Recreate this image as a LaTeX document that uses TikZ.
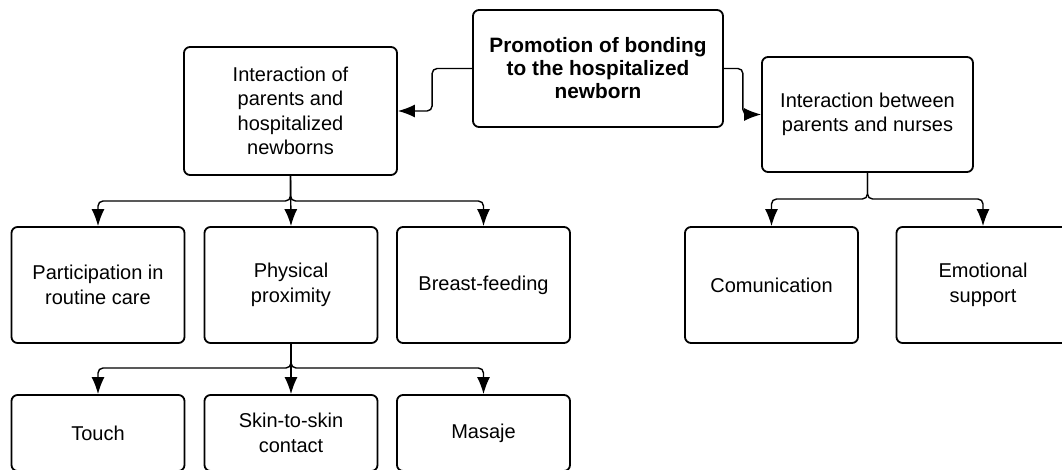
\documentclass[tikz,border=0pt]{standalone}
\usepackage{fontspec}
\setmainfont{Liberation Sans}
\usetikzlibrary{arrows.meta}
\begin{document}
\begin{tikzpicture}[x=1pt,y=-1pt,
  box/.style={draw, line width=1.8pt, rounded corners=6pt, align=center, inner sep=0pt,
    font=\fontsize{20}{24.5}\selectfont},
  rowbox/.style={box, minimum width=173pt, minimum height=116pt},
  lowbox/.style={box, minimum width=173pt, minimum height=76pt},
  conn/.style={line width=1.4pt, rounded corners=5pt, -{Latex[length=17pt,width=13pt]}}]
\useasboundingbox (0,0) rectangle (1062,470);
\clip (0,0) rectangle (1062,470);
% top level
\node[box, minimum width=250pt, minimum height=117pt,
  font=\bfseries\fontsize{20.8}{23}\selectfont] (top) at (598,68.5)
  {Promotion of bonding\\to the hospitalized\\newborn};
\node[box, minimum width=213pt, minimum height=128pt] (L) at (290.5,111)
  {Interaction of\\parents and\\hospitalized\\newborns};
\node[box, minimum width=211pt, minimum height=115pt] (R) at (867.5,114.5)
  {Interaction between\\parents and nurses};
% second row
\node[rowbox] (A) at (98,285) {Participation in\\routine care};
\node[rowbox] (B) at (291,285) {Physical\\proximity};
\node[rowbox] (C) at (483.5,285) {Breast-feeding};
\node[rowbox] (D) at (771.5,285) {Comunication};
\node[rowbox] (E) at (983,285) {Emotional\\support};
% third row
\node[lowbox] (T) at (98,433) {Touch};
\node[lowbox] (S) at (291,433) {Skin-to-skin\\contact};
\node[lowbox] (M) at (483.5,433) {Masaje};
% junction points
\coordinate (j1) at (290.5,201);
\coordinate (j2) at (291,368);
\coordinate (j3) at (867.5,199);
% connectors
\draw[conn] (top.west) -- ++(-40,0) |- (L.east);
\draw[conn] (top.east) -- ++(19,0) |- (R.west);
\draw[conn] (L.south) -- (j1) -| (A.north);
\draw[conn] (L.south) -- (j1) -| (C.north);
\draw[conn] (L.south) -- (B.north);
\draw[conn] (B.south) -- (j2) -| (T.north);
\draw[conn] (B.south) -- (j2) -| (M.north);
\draw[conn] (B.south) -- (S.north);
\draw[conn] (R.south) -- (j3) -| (D.north);
\draw[conn] (R.south) -- (j3) -| (E.north);
\end{tikzpicture}
\end{document}
